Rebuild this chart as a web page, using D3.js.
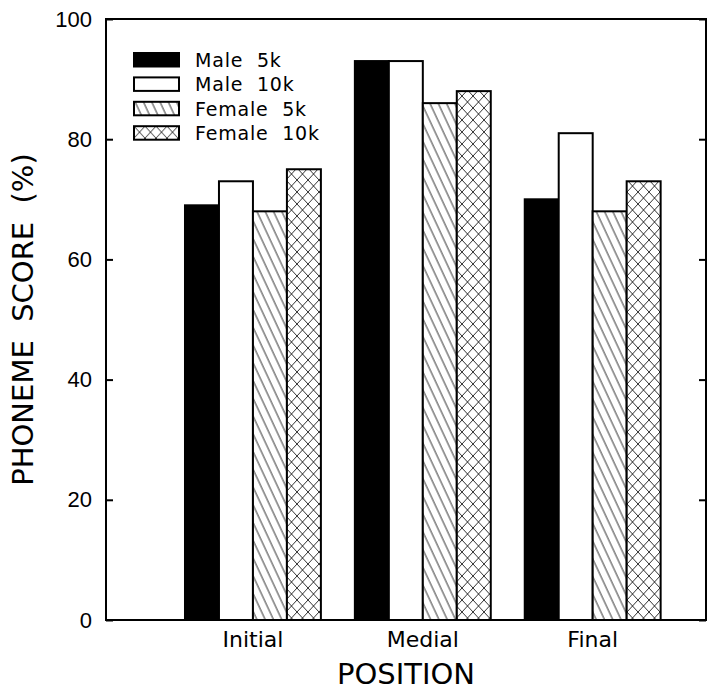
<!DOCTYPE html>
<html>
<head>
<meta charset="utf-8">
<script src="https://cdn.jsdelivr.net/npm/d3@7"></script>
<style>
  body { margin: 0; background: #fff; }
  svg { display: block; }
  text { fill: #000; }
</style>
</head>
<body>
<svg id="chart"></svg>
<script>
// chart data
const categories = ["Initial", "Medial", "Final"];
const seriesNames = ["Male  5k", "Male  10k", "Female  5k", "Female  10k"];
const male5k = [69, 93, 70];
const male10k = [73, 93, 81];
const female5k = [68, 86, 68];
const female10k = [75, 88, 73];
const yTicks = [0, 20, 40, 60, 80, 100];

const seriesValues = [male5k, male10k, female5k, female10k];
const fills = ["#000", "#fff", "url(#hatch)", "url(#cross)"];

const width = 714, height = 693;
const svg = d3.select("#chart").attr("width", width).attr("height", height);

// patterns
const defs = svg.append("defs");
const hatch = defs.append("pattern")
  .attr("id", "hatch")
  .attr("patternUnits", "userSpaceOnUse")
  .attr("width", 7.5).attr("height", 20)
  .attr("patternTransform", "rotate(-25)");
hatch.append("rect").attr("width", 7.5).attr("height", 20).attr("fill", "#fff");
hatch.append("line")
  .attr("x1", 1).attr("y1", 0).attr("x2", 1).attr("y2", 20)
  .attr("stroke", "#000").attr("stroke-width", 0.8);

const cross = defs.append("pattern")
  .attr("id", "cross")
  .attr("patternUnits", "userSpaceOnUse")
  .attr("width", 11).attr("height", 12);
cross.append("rect").attr("width", 11).attr("height", 12).attr("fill", "#fff");
cross.append("path")
  .attr("d", "M0,0L11,12M11,0L0,12")
  .attr("stroke", "#000").attr("stroke-width", 0.8).attr("fill", "none");

// scales
const x = d3.scaleLinear().domain([0.135, 3.667]).range([106, 706]);
const y = d3.scaleLinear().domain([0, 100]).range([620, 19]);
const barW = 0.2;

// bars
seriesValues.forEach((vals, s) => {
  svg.append("g").selectAll("rect")
    .data(vals)
    .enter().append("rect")
    .attr("x", (d, i) => x(i + 1 + (s - 2) * barW))
    .attr("y", d => y(d))
    .attr("width", x(barW) - x(0))
    .attr("height", d => y(0) - y(d))
    .attr("fill", fills[s])
    .attr("stroke", "#000")
    .attr("stroke-width", 2);
});

// frame
svg.append("rect")
  .attr("x", x.range()[0]).attr("y", y.range()[1])
  .attr("width", x.range()[1] - x.range()[0])
  .attr("height", y.range()[0] - y.range()[1])
  .attr("fill", "none").attr("stroke", "#000").attr("stroke-width", 2);

// y axes, ticks inward
svg.append("g")
  .attr("transform", `translate(${x.range()[0]},0)`)
  .call(d3.axisLeft(y).tickValues(yTicks).tickSize(-7).tickPadding(14))
  .call(g => g.select(".domain").remove())
  .call(g => g.selectAll("line").attr("stroke-width", 2))
  .call(g => g.selectAll("text")
    .attr("font-family", "Liberation Sans, Arial, sans-serif")
    .attr("font-size", 22));

svg.append("g")
  .attr("transform", `translate(${x.range()[1]},0)`)
  .call(d3.axisRight(y).tickValues(yTicks).tickSize(-7).tickFormat(""))
  .call(g => g.select(".domain").remove())
  .call(g => g.selectAll("line").attr("stroke-width", 2));

// category labels
svg.append("g").selectAll("text")
  .data(categories)
  .enter().append("text")
  .attr("x", (d, i) => x(i + 1))
  .attr("y", 647)
  .attr("text-anchor", "middle")
  .attr("font-family", "DejaVu Sans, sans-serif")
  .attr("font-size", 22)
  .text(d => d);

// axis titles
svg.append("text")
  .attr("x", (x.range()[0] + x.range()[1]) / 2)
  .attr("y", 684)
  .attr("text-anchor", "middle")
  .attr("font-family", "DejaVu Sans, sans-serif")
  .attr("font-size", 29)
  .text("POSITION");

svg.append("text")
  .attr("transform", `translate(33,${(y.range()[0] + y.range()[1]) / 2}) rotate(-90)`)
  .attr("text-anchor", "middle")
  .attr("font-family", "DejaVu Sans, sans-serif")
  .attr("font-size", 29)
  .style("white-space", "pre")
  .text("PHONEME  SCORE  (%)");

// legend
const legend = svg.append("g").attr("transform", "translate(134,53)");
const rowH = 24.4;
seriesNames.forEach((name, s) => {
  const row = legend.append("g").attr("transform", `translate(0,${s * rowH})`);
  row.append("rect")
    .attr("width", 45).attr("height", 13.5)
    .attr("fill", fills[s]).attr("stroke", "#000").attr("stroke-width", 2);
  row.append("text")
    .attr("x", 61).attr("y", 14)
    .attr("font-family", "DejaVu Sans, sans-serif")
    .attr("font-size", 19)
    .attr("letter-spacing", 0.8)
    .style("white-space", "pre")
    .text(name);
});
</script>
</body>
</html>
